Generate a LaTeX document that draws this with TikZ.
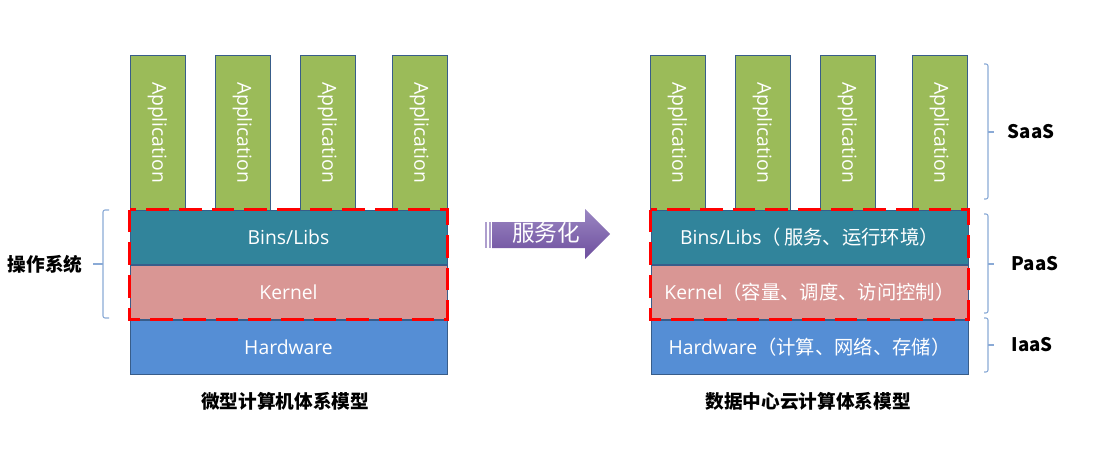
\documentclass[tikz,border=0pt]{standalone}
\usepackage{fontspec}
\setmainfont{Open Sans}
\newfontfamily\cjk{Noto Sans CJK SC}
\usetikzlibrary{positioning}

\definecolor{appGreen}{HTML}{9BBB59}
\definecolor{binsTeal}{HTML}{31849B}
\definecolor{kernPink}{HTML}{D99694}
\definecolor{hwBlue}{HTML}{558ED5}
\definecolor{edgeBlue}{HTML}{385D8A}
\definecolor{braceBlue}{HTML}{8AAAD6}
\definecolor{svcTop}{HTML}{9A86C2}
\definecolor{svcBot}{HTML}{6E4F9E}

\begin{document}
\begin{tikzpicture}[
  x=0.75pt, y=-0.75pt,
  font=\fontsize{14.5pt}{16pt}\selectfont,
  app/.style={draw=edgeBlue, line width=0.75pt, fill=appGreen, text=white, minimum width=41.25pt, minimum height=116.25pt, inner sep=0pt},
  layer/.style={draw=edgeBlue, line width=0.75pt, text=white, minimum width=237.75pt, minimum height=40.5pt, inner sep=0pt},
  osbox/.style={draw=red, line width=2.4pt, dash pattern=on 17pt off 7.5pt},
  brc/.style={draw=braceBlue, line width=0.8pt, rounded corners=1.5pt},
  lbl/.style={font=\cjk\bfseries\fontsize{14pt}{16pt}\selectfont}
]
\useasboundingbox (0,0) rectangle (1094,461);

% left stack
\node[layer, fill=binsTeal] (lBins) at (288.5,237) {Bins/Libs};
\node[layer, fill=kernPink, below=0pt of lBins] (lKernel) {Kernel};
\node[layer, fill=hwBlue, below=0pt of lKernel] (lHw) {Hardware};

\node[app] (lApp1) at (157.5,132.5) {\rotatebox{-90}{Application}};
\node[app] (lApp2) at (242.5,132.5) {\rotatebox{-90}{Application}};
\node[app] (lApp3) at (327.5,132.5) {\rotatebox{-90}{Application}};
\node[app] (lApp4) at (419.5,132.5) {\rotatebox{-90}{Application}};

\draw[osbox] (lBins.north west) rectangle (lKernel.south east);

% right stack
\node[layer, fill=binsTeal, right=152.25pt of lBins] (rBins) {Bins/Libs{\cjk（\,服务、运行环境）}};
\node[layer, fill=kernPink, below=0pt of rBins] (rKernel) {Kernel{\cjk（容量、调度、访问控制）}};
\node[layer, fill=hwBlue, below=0pt of rKernel] (rHw) {Hardware{\cjk（计算、网络、存储）}};

\node[app] (rApp1) at (677.5,132.5) {\rotatebox{-90}{Application}};
\node[app] (rApp2) at (762.5,132.5) {\rotatebox{-90}{Application}};
\node[app] (rApp3) at (847.5,132.5) {\rotatebox{-90}{Application}};
\node[app] (rApp4) at (939.5,132.5) {\rotatebox{-90}{Application}};

\draw[osbox] (rBins.north west) rectangle (rKernel.south east);

% arrow
\fill[svcTop!80] (485,222) rectangle (487,248);
\fill[svcTop!80] (489,222) rectangle (490.5,248);
\shade[top color=svcTop, bottom color=svcBot]
  (492,222) -- (585,222) -- (585,209) -- (610,234) -- (585,259) -- (585,248) -- (492,248) -- cycle;
\node[text=white, font=\cjk\fontsize{17pt}{19pt}\selectfont] (svc) at (546,233) {服务化};

% braces
\draw[brc] (109,210) -- (103,210) -- (103,318) -- (109,318);
\draw[brc] (103,264) -- (93,264);
\node[lbl] (osLbl) at (45,264) {操作系统};

\draw[brc] (984,64) -- (988,64) -- (988,199) -- (984,199);
\draw[brc] (988,132) -- (994,132);
\node[lbl] (saasLbl) at (1031,132) {SaaS};

\draw[brc] (984,214) -- (988,214) -- (988,313) -- (984,313);
\draw[brc] (988,264) -- (994,264);
\node[lbl] (paasLbl) at (1035,264) {PaaS};

\draw[brc] (984,318) -- (988,318) -- (988,372) -- (984,372);
\draw[brc] (988,345) -- (994,345);
\node[lbl] (iaasLbl) at (1032,345) {IaaS};

% captions
\node[lbl] (lCap) at (285,401) {微型计算机体系模型};
\node[lbl] (rCap) at (808,401) {数据中心云计算体系模型};

\end{tikzpicture}
\end{document}
